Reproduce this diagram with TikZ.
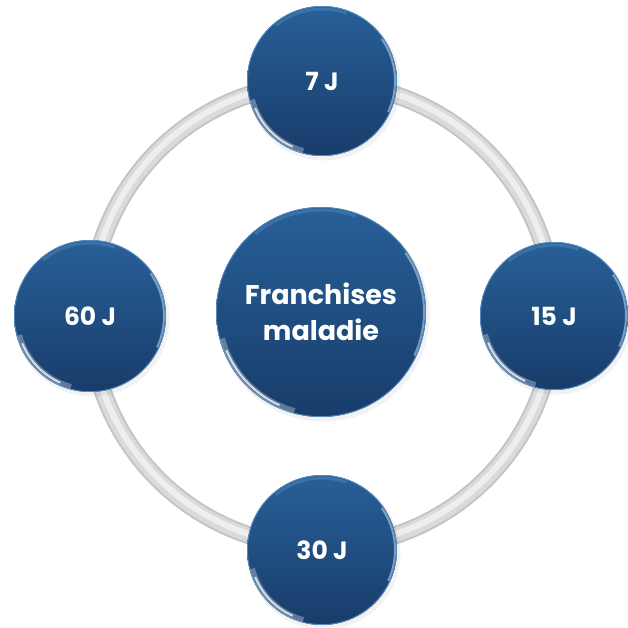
\documentclass[tikz,border=0pt]{standalone}
\usepackage{fontspec}
\setmainfont{Poppins}
\definecolor{balltop}{RGB}{40,96,152}
\definecolor{ballbot}{RGB}{24,60,106}
\definecolor{ballrim}{RGB}{95,150,200}
\definecolor{ringdark}{RGB}{196,196,198}
\definecolor{ringmid}{RGB}{218,218,220}
\definecolor{ringlight}{RGB}{238,238,240}
\tikzset{
  balltext/.style={text=white,font=\bfseries\fontsize{25}{28}\selectfont,align=center,inner sep=0pt},
  bigtext/.style={text=white,font=\bfseries\fontsize{27}{36}\selectfont,align=center,inner sep=0pt},
}
\newcommand\myball[6]{% name, x, y, r, style, text
  \fill[black,opacity=0.05] (#2+2,#3-3) circle (#4+1.5);
  \shade[top color=balltop,bottom color=ballbot] (#2,#3) circle (#4);
  \draw[ballrim!80!balltop,line width=0.8] (#2,#3) circle (#4-0.4);
  \draw[white,opacity=0.3,line width=5] ([shift={(#2,#3)}]195:#4-3) arc (195:255:#4-3);
  \draw[white,opacity=0.75,line width=2] ([shift={(#2,#3)}]202:#4-3) arc (202:246:#4-3);
  \draw[ballrim!60!white,opacity=0.7,line width=2] ([shift={(#2,#3)}]-25:#4-2) arc (-25:35:#4-2);
  \draw[ballrim,opacity=0.35,line width=3] ([shift={(#2,#3)}]70:#4-3) arc (70:130:#4-3);
  \node[#5] (#1) at (#2,#3) {#6};
}
\begin{document}
\begin{tikzpicture}[x=1pt,y=1pt]
\useasboundingbox (0,0) rectangle (628,627);
% ring
\coordinate (rc) at (322,312);
\draw[ringdark,line width=18] (rc) circle (232);
\draw[ringmid,line width=14] (rc) circle (232);
\draw[ringlight,line width=6] ([shift={(0,1)}]rc) circle (232);
% balls
\myball{center}{321}{315}{105}{bigtext}{Franchises\\maladie}
\myball{top}{322}{546}{75}{balltext}{7 J}
\myball{right}{554}{311}{74}{balltext}{15 J}
\myball{bottom}{322}{77}{75}{balltext}{30 J}
\myball{left}{90}{311}{76}{balltext}{60 J}
\end{tikzpicture}
\end{document}
